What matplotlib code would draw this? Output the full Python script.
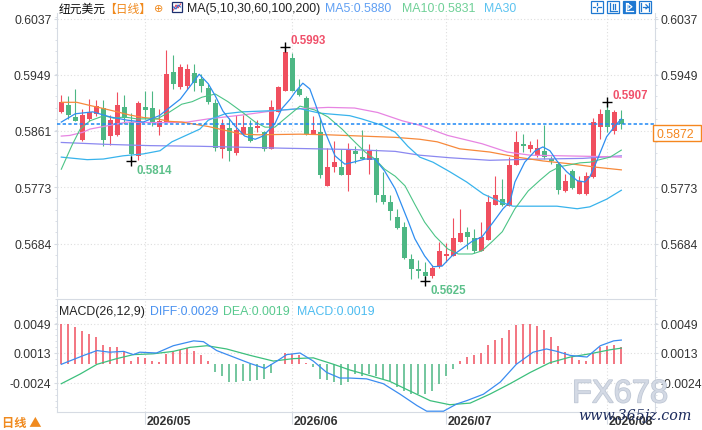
"""NZD/USD daily candles with moving averages and MACD panel."""
import matplotlib
matplotlib.use("Agg")
import matplotlib.pyplot as plt
import matplotlib.patheffects as pe
import matplotlib.transforms as mtransforms
from matplotlib.lines import Line2D
from matplotlib.patches import Rectangle
from matplotlib.ticker import AutoMinorLocator

plt.rcParams["font.family"] = ["Liberation Sans", "Noto Sans CJK SC", "DejaVu Sans"]
plt.rcParams["axes.unicode_minus"] = False

W, H = 702, 431

# daily candles 2026-04-15 .. 2026-08-05
opens = [0.5891, 0.5902, 0.5883, 0.5847, 0.5880, 0.5887, 0.5897, 0.5853, 0.5854, 0.5899,
         0.5875, 0.5822, 0.5898, 0.5897, 0.5868, 0.5875, 0.5953, 0.5930, 0.5932, 0.5952,
         0.5943, 0.5928, 0.5905, 0.5832, 0.5865, 0.5826, 0.5856, 0.5867, 0.5866, 0.5859,
         0.5833, 0.5891, 0.5923, 0.5976, 0.5927, 0.5912, 0.5856, 0.5860, 0.5775, 0.5805,
         0.5805, 0.5792, 0.5829, 0.5820, 0.5816, 0.5819, 0.5761, 0.5749, 0.5726, 0.5710,
         0.5660, 0.5644, 0.5640, 0.5633, 0.5649, 0.5665, 0.5665, 0.5687, 0.5702, 0.5693,
         0.5673, 0.5690, 0.5745, 0.5754, 0.5743, 0.5807, 0.5841, 0.5832, 0.5822, 0.5830,
         0.5817, 0.5809, 0.5767, 0.5798, 0.5762, 0.5762, 0.5789, 0.5868, 0.5894, 0.5861,
         0.5880]
highs = [0.5918, 0.5916, 0.5927, 0.5896, 0.5911, 0.5909, 0.5909, 0.5886, 0.5922, 0.5917,
         0.5889, 0.5908, 0.5923, 0.5923, 0.5896, 0.5988, 0.5980, 0.5966, 0.5966, 0.5966,
         0.5950, 0.5935, 0.5911, 0.5880, 0.5881, 0.5886, 0.5886, 0.5878, 0.5879, 0.5861,
         0.5910, 0.5932, 0.5993, 0.5983, 0.5943, 0.5916, 0.5885, 0.5882, 0.5834, 0.5845,
         0.5832, 0.5842, 0.5838, 0.5863, 0.5841, 0.5833, 0.5797, 0.5760, 0.5739, 0.5718,
         0.5668, 0.5659, 0.5655, 0.5650, 0.5687, 0.5686, 0.5724, 0.5739, 0.5710, 0.5708,
         0.5718, 0.5761, 0.5790, 0.5786, 0.5820, 0.5861, 0.5856, 0.5846, 0.5848, 0.5870,
         0.5821, 0.5813, 0.5794, 0.5801, 0.5791, 0.5796, 0.5882, 0.5896, 0.5907, 0.5894,
         0.5894]
lows = [0.5889, 0.5880, 0.5876, 0.5846, 0.5877, 0.5884, 0.5838, 0.5839, 0.5853, 0.5872,
        0.5814, 0.5815, 0.5880, 0.5869, 0.5855, 0.5875, 0.5927, 0.5927, 0.5927, 0.5924,
        0.5922, 0.5903, 0.5830, 0.5818, 0.5814, 0.5823, 0.5854, 0.5844, 0.5860, 0.5830,
        0.5833, 0.5891, 0.5923, 0.5924, 0.5916, 0.5855, 0.5856, 0.5788, 0.5775, 0.5797,
        0.5792, 0.5767, 0.5811, 0.5817, 0.5794, 0.5750, 0.5746, 0.5722, 0.5707, 0.5660,
        0.5629, 0.5630, 0.5625, 0.5631, 0.5646, 0.5655, 0.5665, 0.5687, 0.5676, 0.5670,
        0.5673, 0.5690, 0.5745, 0.5743, 0.5743, 0.5807, 0.5828, 0.5828, 0.5820, 0.5817,
        0.5809, 0.5762, 0.5766, 0.5770, 0.5762, 0.5761, 0.5788, 0.5848, 0.5859, 0.5857,
        0.5864]
closes = [0.5906, 0.5886, 0.5877, 0.5886, 0.5890, 0.5900, 0.5847, 0.5879, 0.5901, 0.5881,
          0.5825, 0.5905, 0.5894, 0.5875, 0.5876, 0.5950, 0.5934, 0.5961, 0.5959, 0.5936,
          0.5932, 0.5907, 0.5834, 0.5870, 0.5830, 0.5863, 0.5868, 0.5846, 0.5869, 0.5833,
          0.5898, 0.5930, 0.5985, 0.5924, 0.5918, 0.5856, 0.5863, 0.5792, 0.5805, 0.5813,
          0.5792, 0.5832, 0.5825, 0.5817, 0.5829, 0.5761, 0.5750, 0.5736, 0.5709, 0.5662,
          0.5644, 0.5642, 0.5633, 0.5646, 0.5673, 0.5668, 0.5693, 0.5701, 0.5695, 0.5673,
          0.5694, 0.5749, 0.5761, 0.5745, 0.5808, 0.5843, 0.5838, 0.5839, 0.5834, 0.5820,
          0.5814, 0.5768, 0.5782, 0.5772, 0.5782, 0.5790, 0.5875, 0.5888, 0.5867, 0.5890,
          0.5872]

# moving averages, sampled along the candle index
ma5_x = [0, 2, 4.5, 7, 9.4, 11.7, 14, 17, 19.7, 21, 22, 23.1, 24.8, 26.2, 27.7, 28.8, 30.5,
         31.5, 32.7, 33.4, 34.5, 35.5, 36.3, 37.7, 39.1, 40.5, 41.7, 43.4, 44.8, 46.2, 47.7,
         49.6, 50.5, 51.9, 53.1, 54.4, 55.8, 57.2, 58.7, 60.1, 61.7, 63.1, 64.1, 64.8, 66.2,
         67.7, 68.8, 69.8, 70.8, 72.2, 73.7, 74.8, 75.5, 76.5, 77.9, 79.1, 80]
ma5_v = [0.5875, 0.5888, 0.5891, 0.5883, 0.5878, 0.5875, 0.5885, 0.5911, 0.5950, 0.5935,
         0.5916, 0.5892, 0.5869, 0.5853, 0.5848, 0.5853, 0.5872, 0.5896, 0.5911, 0.5922,
         0.5936, 0.5927, 0.5903, 0.5859, 0.5822, 0.5809, 0.5812, 0.5817, 0.5817, 0.5798,
         0.5770, 0.5718, 0.5692, 0.5665, 0.5648, 0.5649, 0.5665, 0.5676, 0.5688, 0.5695,
         0.5718, 0.5739, 0.5750, 0.5781, 0.5812, 0.5830, 0.5836, 0.5830, 0.5814, 0.5797,
         0.5783, 0.5781, 0.5789, 0.5814, 0.5852, 0.5869, 0.5880]
ma10_x = [0, 1.5, 2.7, 4.1, 6.1, 7.5, 9, 10.8, 13.7, 15.5, 17.2, 18.7, 20.1, 22, 23.8, 25.8,
          27.7, 29.1, 30.5, 31.9, 34.1, 36.2, 38.1, 40.1, 41.9, 43.4, 44.8, 46.2, 47.7, 49.1,
          50.5, 51.9, 53.4, 55.2, 56.7, 58.7, 60.1, 61.5, 63, 64.8, 66.7, 68.4, 69.8, 71.2,
          72.7, 74.1, 75.5, 76.9, 78.4, 80]
ma10_v = [0.5801, 0.5838, 0.5864, 0.5877, 0.5885, 0.5881, 0.5883, 0.5880, 0.5880, 0.5891,
          0.5903, 0.5907, 0.5914, 0.5919, 0.5907, 0.5891, 0.5875, 0.5867, 0.5867, 0.5880,
          0.5900, 0.5894, 0.5883, 0.5864, 0.5844, 0.5828, 0.5817, 0.5801, 0.5790, 0.5775,
          0.5746, 0.5718, 0.5696, 0.5676, 0.5668, 0.5668, 0.5673, 0.5687, 0.5703, 0.5739,
          0.5767, 0.5784, 0.5797, 0.5805, 0.5808, 0.5811, 0.5812, 0.5816, 0.5820, 0.5831]
ma30_x = [0, 3.7, 6, 8.8, 11.7, 14.1, 15.8, 17.4, 19.8, 21, 23.4, 25.8, 30.5, 34.1, 36.9,
          41.2, 42.9, 45.8, 47.7, 49.5, 51.2, 53.1, 55.5, 57.9, 60.3, 62.7, 64.5, 67.4, 70.8,
          73.7, 75.5, 77.9, 80]
ma30_v = [0.5820, 0.5816, 0.5817, 0.5822, 0.5825, 0.5830, 0.5844, 0.5852, 0.5864, 0.5878,
          0.5888, 0.5891, 0.5893, 0.5896, 0.5889, 0.5885, 0.5880, 0.5870, 0.5859, 0.5837,
          0.5820, 0.5812, 0.5797, 0.5781, 0.5762, 0.5750, 0.5743, 0.5743, 0.5743, 0.5739,
          0.5742, 0.5754, 0.5768]
ma60_x = [0, 2.2, 4.1, 6.1, 8, 9.8, 11.8, 13.7, 15.5, 17.2, 21, 25.8, 28.1, 34.1, 38.1,
          42.9, 47.7, 51.2, 53.7, 56.9, 61.2, 65.1, 68.8, 73.1, 76.5, 80]
ma60_v = [0.5906, 0.5906, 0.5901, 0.5896, 0.5891, 0.5886, 0.5882, 0.5880, 0.5876, 0.5875,
          0.5868, 0.5856, 0.5855, 0.5856, 0.5855, 0.5853, 0.5851, 0.5848, 0.5844, 0.5833,
          0.5828, 0.5820, 0.5814, 0.5809, 0.5804, 0.5800]
ma100_x = [0, 1.2, 3.1, 4.1, 6.5, 9.4, 14.1, 18, 21, 25.8, 30.5, 34.1, 38.1, 41.9, 45.2,
           48.7, 51.2, 55.2, 60.1, 63.7, 67, 71.7, 76.5, 80]
ma100_v = [0.5853, 0.5854, 0.5859, 0.5864, 0.5869, 0.5875, 0.5874, 0.5875, 0.5880, 0.5886,
           0.5893, 0.5896, 0.5898, 0.5897, 0.5890, 0.5877, 0.5870, 0.5854, 0.5841, 0.5828,
           0.5823, 0.5822, 0.5821, 0.5820]
ma200_x = [0, 6.5, 12.7, 19.8, 31.7, 41.2, 47.7, 51.2, 55.5, 61.2, 68.4, 74.5, 80]
ma200_v = [0.5843, 0.5840, 0.5838, 0.5837, 0.5834, 0.5832, 0.5829, 0.5823, 0.5819, 0.5815,
           0.5817, 0.5818, 0.5822]

# MACD(26,12,9)
macd_hist = [0.0049, 0.0049, 0.0045, 0.0040, 0.0036, 0.0033, 0.0023, 0.0020, 0.0020, 0.0015,
             0.0003, 0.0008, 0.0007, 0.0003, 0.0002, 0.0012, 0.0014, 0.0017, 0.0019, 0.0016,
             0.0011, 0.0003, -0.0011, -0.0016, -0.0023, -0.0023, -0.0022, -0.0022, -0.0020,
             -0.0019, -0.0012, -0.0001, 0.0013, 0.0012, 0.0011, 0.0001, -0.0004, -0.0019,
             -0.0021, -0.0023, -0.0027, -0.0023, -0.0013, -0.0015, -0.0013, -0.0016, -0.0019,
             -0.0022, -0.0029, -0.0034, -0.0038, -0.0038, -0.0038, -0.0034, -0.0025, -0.0016,
             -0.0007, 0.0003, 0.0008, 0.0010, 0.0013, 0.0023, 0.0029, 0.0032, 0.0041, 0.0048,
             0.0049, 0.0049, 0.0046, 0.0041, 0.0033, 0.0022, 0.0014, 0.0008, 0.0004, 0.0003,
             0.0013, 0.0020, 0.0022, 0.0023, 0.0020]
diff_x = [0, 3.2, 5.1, 6.9, 8.9, 10.3, 11.2, 13.6, 16, 18.9, 20.3, 22.2, 24.6, 27, 29.1, 30.8,
          32.2, 34.1, 36, 37.9, 39.8, 41.2, 43.6, 46, 48.4, 50.8, 52.2, 54.6, 56.5, 57.9, 60.3,
          62.7, 65, 67.4, 69.3, 70.8, 72.7, 75.1, 77, 78.9, 80]
diff_v = [-0.0001, 0.0010, 0.0016, 0.0014, 0.0015, 0.0011, 0.0014, 0.0013, 0.0022, 0.0028,
          0.0027, 0.0016, 0.0008, 0.0000, -0.0006, 0.0003, 0.0011, 0.0013, 0.0003, -0.0011,
          -0.0018, -0.0018, -0.0019, -0.0025, -0.0038, -0.0052, -0.0059, -0.0059, -0.0050,
          -0.0046, -0.0038, -0.0023, -0.0001, 0.0014, 0.0018, 0.0015, 0.0010, 0.0008, 0.0022,
          0.0028, 0.0029]
dea_x = [0, 2.7, 5.1, 7.9, 10.3, 13.1, 16, 18.4, 20.8, 23.6, 27, 30.3, 33.1, 36, 38.9, 41.2,
         44.1, 46.9, 49.8, 52.7, 55.5, 58.4, 61.2, 64.1, 67, 69.8, 72.7, 75.5, 78.4, 80]
dea_v = [-0.0025, -0.0013, -0.0001, 0.0006, 0.0011, 0.0012, 0.0015, 0.0020, 0.0022, 0.0018,
         0.0010, 0.0003, 0.0006, 0.0007, -0.0001, -0.0008, -0.0015, -0.0022, -0.0034, -0.0046,
         -0.0051, -0.0049, -0.0038, -0.0025, -0.0011, 0.0001, 0.0008, 0.0012, 0.0017, 0.0019]

price_ticks = [0.6037, 0.5949, 0.5861, 0.5773, 0.5684]
macd_ticks = [0.0049, 0.0013, -0.0024]
month_idx = [12, 33, 55, 78]
month_labels = ["2026/05", "2026/06", "2026/07", "2026/08"]
last_price = 0.5872
marks = [(32, 0.5993, "0.5993", "high"), (10, 0.5814, "0.5814", "low"),
         (52, 0.5625, "0.5625", "low"), (78, 0.5907, "0.5907", "high")]

UP = "#f04f5f"
DOWN = "#4db784"
AXIS = "#d6dbe3"
GRID = "#dedede"
ORANGE = "#f08a1e"
CJK = ["Noto Sans CJK SC", "DejaVu Sans"]


def fx(x):
    return x / W


def fy(y):
    return 1 - y / H


def style_axis(ax, ticks, labels):
    ax.set_xlim(-0.614, 84.81)
    ax.set_yticks(ticks)
    ax.set_yticklabels(labels)
    ax.yaxis.set_minor_locator(AutoMinorLocator(5))
    ax.tick_params(axis="y", which="both", left=True, right=True, labelleft=True,
                   labelright=True, direction="out", color=AXIS, labelsize=8.7,
                   labelcolor="#333333")
    ax.tick_params(axis="y", which="major", length=2.5, pad=1.5)
    ax.tick_params(axis="y", which="minor", length=1.6)
    ax.set_xticks(month_idx)
    ax.grid(True, which="major", ls=(0, (1, 2)), color=GRID, lw=0.8)
    ax.set_axisbelow(True)
    for side in ("left", "right", "top", "bottom"):
        ax.spines[side].set_color(AXIS)
        ax.spines[side].set_linewidth(0.8)


fig = plt.figure(figsize=(W / 100, H / 100), dpi=100)
fig.patch.set_facecolor("white")

ax = fig.add_axes([fx(57), fy(297), 598 / W, 283 / H])
mx = fig.add_axes([fx(57), fy(413), 598 / W, 113 / H])

# --- price panel
style_axis(ax, price_ticks, [f"{t:.4f}" for t in price_ticks])
ax.set_ylim(0.56021, 0.60461)
ax.spines["top"].set_visible(False)
ax.spines["bottom"].set_visible(False)
ax.tick_params(axis="x", length=0, labelbottom=False)
# the right-hand 0.5861 label sits under the last-price tag
ax.yaxis.get_major_ticks()[2].label2.set_visible(False)

for i, (o, h, l, c) in enumerate(zip(opens, highs, lows, closes)):
    col = UP if c >= o else DOWN
    ax.vlines(i, l, h, color=col, lw=0.8, zorder=2)
    ax.bar(i, max(abs(c - o), 0.00012), bottom=min(o, c), width=0.74, color=col,
           linewidth=0, zorder=2)

ax.plot(ma200_x, ma200_v, color="#8b88f0", lw=0.9, zorder=3)
ax.plot(ma100_x, ma100_v, color="#e784e2", lw=0.9, zorder=3)
ax.plot(ma60_x, ma60_v, color="#f7893b", lw=0.9, zorder=3)
ax.plot(ma30_x, ma30_v, color="#38b3ec", lw=0.9, zorder=3)
ax.plot(ma10_x, ma10_v, color="#4cc486", lw=0.8, zorder=3)
ax.plot(ma5_x, ma5_v, color="#2f8ef0", lw=0.9, zorder=3)

ax.axhline(last_price, color="#1e88f5", lw=1.1, ls=(0, (2.2, 1.5)), zorder=4)

for i, p, txt, kind in marks:
    ax.plot(i, p, marker="+", color="black", ms=7, mew=1, zorder=5)
    dy = 4.8 if kind == "high" else -6.2
    col = "#f0506a" if kind == "high" else "#5cc08a"
    ax.annotate(txt, (i, p), xytext=(3.8, dy), textcoords="offset points", ha="left",
                va="center", color=col, fontsize=8.3, fontweight="bold", zorder=5)

# --- MACD panel
style_axis(mx, macd_ticks, [f"{t:.4f}" for t in macd_ticks])
mx.set_ylim(-0.0060, 0.00798)
mx.tick_params(axis="x", length=8.6, color=AXIS, direction="out", labelbottom=False)
hist_cols = [UP if v >= 0 else DOWN for v in macd_hist]
mx.vlines(range(len(macd_hist)), 0, macd_hist, colors=hist_cols, lw=1.1, zorder=2)
mx.plot(dea_x, dea_v, color="#3cbf7c", lw=0.9, zorder=3)
mx.plot(diff_x, diff_v, color="#3b8cf0", lw=0.9, zorder=3)

trans = mtransforms.blended_transform_factory(mx.transData, mx.transAxes)
for i, lab in zip(month_idx, month_labels):
    mx.text(i + 0.15, -9 / 113, lab, transform=trans, ha="left", va="center",
            fontsize=8.8, fontweight="bold", color="#333333")

# --- header row
fig.text(fx(59), fy(9), "纽元美元", family=CJK, fontsize=8.5, color="#111111",
         ha="left", va="center")
fig.text(fx(104), fy(9), "【日线】", family=CJK, fontsize=8.5, color=ORANGE,
         ha="left", va="center")
fig.text(fx(154), fy(9.5), "⊕", family=["DejaVu Sans"], fontsize=8, color=ORANGE,
         ha="left", va="center")
fig.add_artist(Rectangle((fx(172), fy(13)), 10 / W, 10 / H, transform=fig.transFigure,
                         facecolor="white", edgecolor="#1c2f6e", lw=0.9))
fig.add_artist(Line2D([fx(173.5), fx(176), fx(178), fx(180.5)],
                      [fy(11), fy(6), fy(9), fy(5)], transform=fig.transFigure,
                      color="#e0405a", lw=0.8))
fig.add_artist(Line2D([fx(173.5), fx(176), fx(178), fx(180.5)],
                      [fy(8), fy(10), fy(6), fy(8)], transform=fig.transFigure,
                      color="#2f6fd6", lw=0.8))
fig.text(fx(187), fy(9), "MA(5,10,30,60,100,200)", fontsize=8.9, color="#222222",
         ha="left", va="center")
fig.text(fx(325), fy(9), "MA5:0.5880", fontsize=8.9, color="#5f9ff3", ha="left", va="center")
fig.text(fx(402), fy(9), "MA10:0.5831", fontsize=8.9, color="#6fd097", ha="left", va="center")
fig.text(fx(484), fy(9), "MA30", fontsize=8.9, color="#5cc3f0", ha="left", va="center")

# toolbar icons top right
ICON = "#1f78d1"
for k, x0 in enumerate([590.7, 606.7, 622.7, 638.7]):
    filled = k == 2
    fig.add_artist(Rectangle((fx(x0), fy(14)), 12.5 / W, 12.5 / H,
                             transform=fig.transFigure, lw=0.9, edgecolor=ICON,
                             facecolor=ICON if filled else "white"))
    gc = "white" if filled else ICON
    cx, cy = x0 + 6.25, 7.75
    if k == 0:
        segs = [([cx - 4, cx - 1.5], [cy, cy]), ([cx + 1.5, cx + 4], [cy, cy]),
                ([cx, cx], [cy - 4, cy - 1.5]), ([cx, cx], [cy + 1.5, cy + 4])]
    elif k == 1:
        segs = [([cx - 3, cx - 3], [cy - 4, cy + 4]), ([cx - 3, cx + 4], [cy + 4, cy + 4]),
                ([cx, cx], [cy - 3, cy + 2]), ([cx + 2, cx + 2], [cy - 3, cy + 2])]
    elif k == 2:
        segs = [([cx - 3, cx - 3], [cy - 4, cy + 4]), ([cx - 3, cx + 4], [cy + 4, cy + 4]),
                ([cx - 1, cx + 3, cx - 1, cx - 1], [cy - 3, cy, cy + 3, cy - 3])]
    else:
        segs = [([cx - 4, cx - 4], [cy - 4, cy + 4]), ([cx - 2, cx + 3], [cy, cy]),
                ([cx + 1, cx + 3, cx + 1], [cy - 2, cy, cy + 2]),
                ([cx + 4, cx + 4], [cy - 4, cy + 4])]
    for xs, ys in segs:
        fig.add_artist(Line2D([fx(v) for v in xs], [fy(v) for v in ys],
                              transform=fig.transFigure, color=gc, lw=0.9))

# MACD legend row
fig.text(fx(59), fy(312), "MACD(26,12,9)", fontsize=8.9, color="#222222", ha="left",
         va="center")
fig.text(fx(150), fy(312), "DIFF:0.0029", fontsize=8.9, color="#4a92f0", ha="left",
         va="center")
fig.text(fx(223), fy(312), "DEA:0.0019", fontsize=8.9, color="#58c98e", ha="left",
         va="center")
fig.text(fx(297), fy(312), "MACD:0.0019", fontsize=8.9, color="#4dbcf0", ha="left",
         va="center")

# last price tag on the right axis
fig.add_artist(Rectangle((fx(653), fy(142)), 48 / W, 16 / H, transform=fig.transFigure,
                         facecolor="white", edgecolor="#f5871f", lw=1.0, zorder=10))
fig.text(fx(656.5), fy(134.5), f"{last_price:.4f}", fontsize=8.9, color="#f5871f",
         ha="left", va="center", zorder=11)

# bottom-left period switch
fig.text(fx(2), fy(424), "日线 ▲", family=CJK, fontsize=8.8, fontweight="bold",
         color=ORANGE, ha="left", va="center")

# watermark
fig.text(fx(572), fy(395), "FX678", fontsize=23.5, color="#d4dae5", alpha=0.9,
         ha="left", va="center", zorder=12,
         path_effects=[pe.withStroke(linewidth=1.0, foreground="#b8c1d0")])
fig.text(fx(578), fy(416), "www.365jz.com", family=["DejaVu Serif"], style="italic",
         fontsize=10.3, color="#1b2a5c", ha="left", va="center", zorder=12)

fig.savefig("out.png", dpi=100, facecolor="white")
